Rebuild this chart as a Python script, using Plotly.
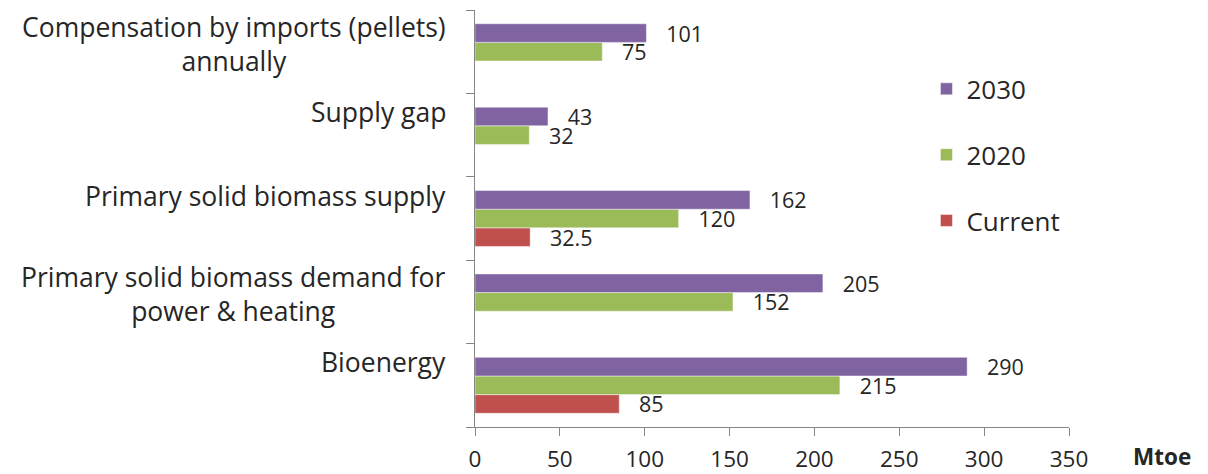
import plotly.graph_objects as go

# Categories listed bottom-to-top (Plotly puts the first category at the bottom)
categories = [
    "Bioenergy",
    "Primary solid biomass demand for<br>power & heating",
    "Primary solid biomass supply",
    "Supply gap",
    "Compensation by imports (pellets)<br>annually",
]
current = [85, None, 32.5, None, None]
y2020 = [215, 152, 120, 32, 75]
y2030 = [290, 205, 162, 43, 101]

# (name, values, colour, legend rank) -- drawn bottom-to-top within each group
series = [
    ("Current", current, "#C0504D", 3),
    ("2020", y2020, "#9BBB59", 2),
    ("2030", y2030, "#8064A2", 1),
]

FONT = "Open Sans"
TXT = "#262626"

fig = go.Figure()
for name, vals, color, rank in series:
    fig.add_trace(go.Bar(
        name=name,
        y=categories,
        x=vals,
        orientation="h",
        marker=dict(color=color, line=dict(color="rgba(255,255,255,0.45)", width=1)),
        text=["\u00a0\u00a0\u00a0" + (f"{v:g}") if v is not None else "" for v in vals],
        textposition="outside",
        textfont=dict(family=FONT, size=21.5, color=TXT),
        constraintext="none",
        cliponaxis=False,
        legendgroup=name,
        legendrank=rank,
        hoverinfo="x+name",
    ))

# Category labels drawn beside the axis, centred per line
annotations = []
for cat in categories:
    two_line = "<br>" in cat
    annotations.append(dict(
        x=0, xref="paper", y=cat, yref="y",
        text=cat, showarrow=False,
        xanchor="right", yanchor="middle", align="center",
        xshift=-27, yshift=8 if two_line else 23,
        font=dict(family=FONT, size=26.5, color=TXT),
    ))

# Unit label at the end of the value axis
annotations.append(dict(
    x=1.157, xref="paper", y=-0.071, yref="paper",
    text="<b>Mtoe</b>", showarrow=False,
    xanchor="center", yanchor="middle",
    font=dict(family=FONT, size=22.5, color=TXT),
))

fig.update_layout(
    width=1208, height=474,
    margin=dict(l=475, r=139, t=10, b=47, autoexpand=False),
    paper_bgcolor="white", plot_bgcolor="white",
    barmode="group", bargap=0.33, bargroupgap=0,
    showlegend=True,
    legend=dict(
        x=0.76, y=0.867, xref="paper", yref="paper",
        xanchor="left", yanchor="top",
        traceorder="grouped", tracegroupgap=29,
        font=dict(family=FONT, size=26, color=TXT),
        bgcolor="rgba(0,0,0,0)",
    ),
    xaxis=dict(
        range=[0, 350], dtick=50, tick0=0,
        showgrid=False, zeroline=False,
        showline=True, linecolor="#868686", linewidth=1,
        ticks="outside", ticklen=8, tickcolor="#868686",
        tickfont=dict(family=FONT, size=22.5, color=TXT),
        ticklabelstandoff=4, automargin=False,
    ),
    yaxis=dict(
        categoryorder="array", categoryarray=categories,
        range=[-0.5, len(categories) - 0.5],
        showgrid=False, zeroline=False,
        showline=True, linecolor="#868686", linewidth=1,
        ticks="outside", ticklen=8, tickcolor="#868686",
        tickson="boundaries", showticklabels=False, automargin=False,
    ),
    annotations=annotations,
)

fig.write_html("out.html")
